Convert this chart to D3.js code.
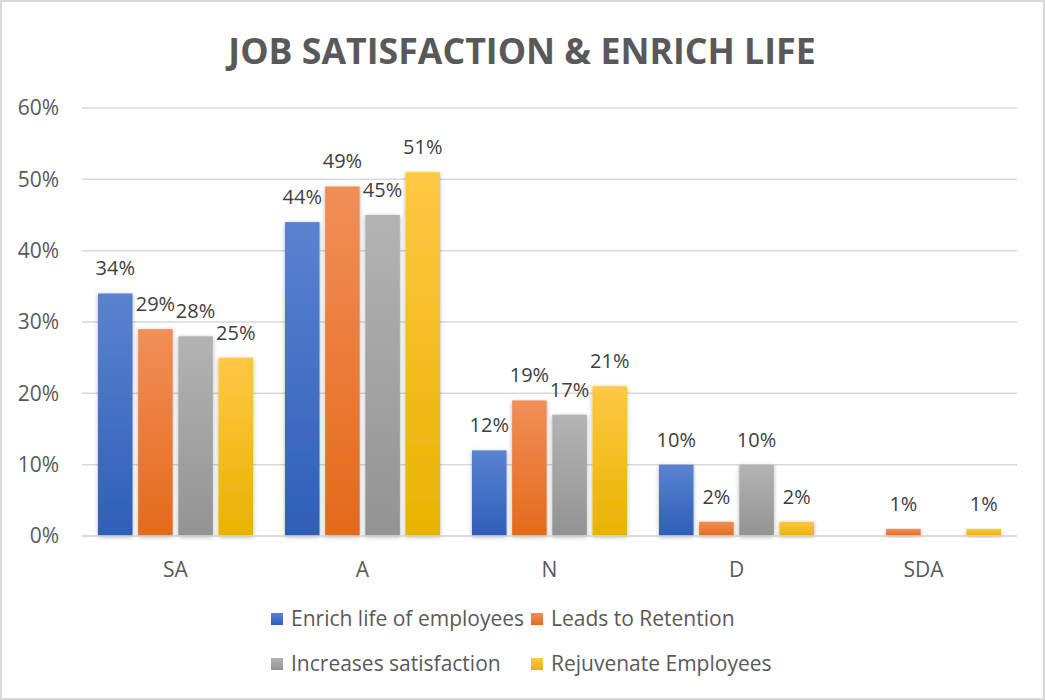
<!DOCTYPE html>
<html><head><meta charset="utf-8">
<script src="https://cdn.jsdelivr.net/npm/d3@7"></script>
<style>body{margin:0;background:#fff;} text{font-family:"Open Sans",sans-serif;}</style>
</head><body><svg id="c" width="1045" height="700"></svg>
<script>
const categories = ["SA","A","N","D","SDA"];
const seriesNames = ["Enrich life of employees","Leads to Retention","Increases satisfaction","Rejuvenate Employees"];
const enrichLife = [34,44,12,10,0];
const retention = [29,49,19,2,1];
const satisfaction = [28,45,17,10,0];
const rejuvenate = [25,51,21,2,1];
const yTicks = [0,10,20,30,40,50,60];
const title = "JOB SATISFACTION & ENRICH LIFE";
const seriesValues = [enrichLife, retention, satisfaction, rejuvenate];
const grads = [["#5a82d0","#2e5fb8"],["#f18e58","#e46a1b"],["#b3b3b3","#939393"],["#ffc745","#e8b300"]];

const svg = d3.select("#c");
const W=1045,H=700;
svg.append("rect").attr("x",1).attr("y",1).attr("width",W-2).attr("height",H-2).attr("fill","#fff").attr("stroke","#d9d9d9").attr("stroke-width",2);
const defs = svg.append("defs");
grads.forEach((g,i)=>{
  const lg = defs.append("linearGradient").attr("id","g"+i).attr("x1",0).attr("y1",0).attr("x2",0).attr("y2",1);
  lg.append("stop").attr("offset","0%").attr("stop-color",g[0]);
  lg.append("stop").attr("offset","100%").attr("stop-color",g[1]);
});
const f = defs.append("filter").attr("id","sh").attr("x","-30%").attr("y","-10%").attr("width","160%").attr("height","130%");
f.append("feDropShadow").attr("dx",0).attr("dy",1).attr("stdDeviation",2).attr("flood-color","#000").attr("flood-opacity",0.3);

const x0=82,x1=1017,yTop=108,yBot=536;
const x = d3.scaleBand().domain(categories).range([x0,x1]).paddingInner(0).paddingOuter(0);
const y = d3.scaleLinear().domain([0,60]).range([yBot,yTop]);
const inner = d3.scaleBand().domain(d3.range(4)).range([16, x.bandwidth()-16]).paddingInner(0.14).paddingOuter(0);

svg.append("text").attr("x",522).attr("y",64).attr("text-anchor","middle").attr("font-size",35.7).attr("font-weight","bold").attr("fill","#595959").text(title);

// gridlines
svg.append("g").selectAll("line").data(yTicks).join("line")
  .attr("x1",x0).attr("x2",x1).attr("y1",d=>y(d)).attr("y2",d=>y(d))
  .attr("stroke","#d9d9d9").attr("stroke-width",1.5);
svg.append("g").selectAll("text").data(yTicks).join("text")
  .attr("x",59).attr("y",d=>y(d)).attr("dy","0.35em").attr("text-anchor","end")
  .attr("font-size",21).attr("fill","#595959").text(d=>d+"%");

// bars
const g = svg.append("g");
seriesValues.forEach((vals,si)=>{
  const data = categories.map((c,ci)=>({c,v:vals[ci]}));
  g.append("g").selectAll("rect").data(data.filter(d=>d.v>0)).join("rect")
    .attr("x",d=>x(d.c)+inner(si)).attr("width",inner.bandwidth())
    .attr("y",d=>y(d.v)).attr("height",d=>yBot-y(d.v))
    .attr("fill","url(#g"+si+")").attr("filter","url(#sh)");
  g.append("g").selectAll("text").data(data.filter(d=>d.v>0)).join("text")
    .attr("x",d=>x(d.c)+inner(si)+inner.bandwidth()/2).attr("y",d=>y(d.v)-18)
    .attr("text-anchor","middle").attr("font-size",20).attr("fill","#404040").text(d=>d.v+"%");
});
// axis baseline
svg.append("line").attr("x1",x0).attr("x2",x1).attr("y1",yBot).attr("y2",yBot).attr("stroke","#d9d9d9").attr("stroke-width",1.5);
svg.append("g").selectAll("text").data(categories).join("text")
  .attr("x",d=>x(d)+x.bandwidth()/2).attr("y",570).attr("dy","0.35em").attr("text-anchor","middle")
  .attr("font-size",21).attr("fill","#595959").text(d=>d);

// legend
const legPos = [[271,619],[531,619],[271,664],[531,664]];
const leg = svg.append("g");
seriesNames.forEach((n,i)=>{
  const [lx,ly]=legPos[i];
  leg.append("rect").attr("x",lx).attr("y",ly-6).attr("width",12).attr("height",12).attr("fill","url(#g"+i+")");
  leg.append("text").attr("x",lx+20).attr("y",ly).attr("dy","0.35em").attr("font-size",21).attr("fill","#595959").text(n);
});
</script></body></html>
